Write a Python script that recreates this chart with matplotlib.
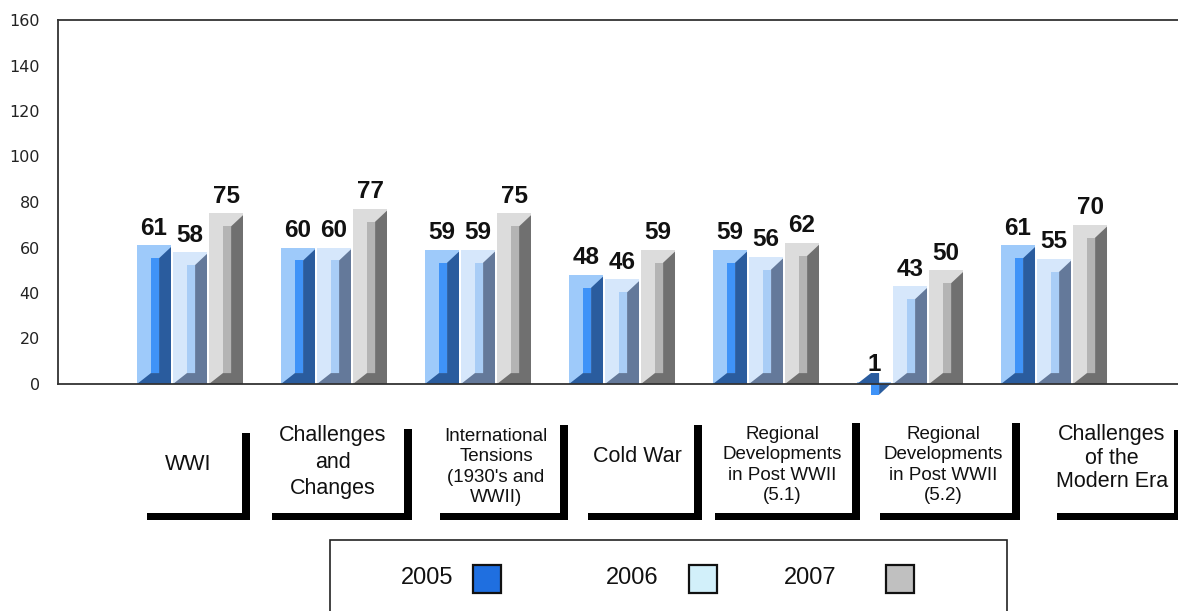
"""
Exam results by topic, 2005-2007, drawn as bevelled pseudo-3D bars.
"""

import matplotlib.pyplot as plt
from matplotlib.patches import Polygon, Rectangle

# Data.
categories = [
    "WWI",
    "Challenges\nand\nChanges",
    "International\nTensions\n(1930's and\nWWII)",
    "Cold War",
    "Regional\nDevelopments\nin Post WWII\n(5.1)",
    "Regional\nDevelopments\nin Post WWII\n(5.2)",
    "Challenges\nof the\nModern Era",
]
years = ["2005", "2006", "2007"]
scores_2005 = [61, 60, 59, 48, 59, 1, 61]
scores_2006 = [58, 60, 59, 46, 56, 43, 55]
scores_2007 = [75, 77, 75, 59, 62, 50, 70]
y_ticks = [0, 20, 40, 60, 80, 100, 120, 140, 160]

# Shading for each series: front face, inner strip, dark bevel.
SHADES = [
    ("#9ecafa", "#3f93f8", "#2a5c9e"),
    ("#d6e7fb", "#a9cdf6", "#64799a"),
    ("#dcdcdc", "#b4b4b4", "#707070"),
]
LEGEND_COLORS = ["#1f6fe0", "#d2f0fa", "#c0c0c0"]

W, H = 1178, 611
FONT = "Liberation Sans"


def fx(x):
    return x / W


def fy(y):
    return 1 - y / H


def draw_bar(ax, x0, w, h, shades):
    light, mid, dark = shades
    d_top, d_bot, t = 5.7, 4.8, 0.8
    ax.add_patch(Rectangle((x0, 0), w, h, facecolor=light, edgecolor="none",
                           clip_on=False))
    ax.add_patch(Rectangle((x0 + 0.41 * w, d_bot), 0.24 * w, h - d_top - d_bot,
                           facecolor=mid, edgecolor="none", clip_on=False))
    ax.add_patch(Polygon(
        [(x0, 0), (x0 + w, 0), (x0 + w, h - t), (x0 + 0.65 * w, h - d_top),
         (x0 + 0.65 * w, d_bot), (x0 + 0.41 * w, d_bot)],
        closed=True, facecolor=dark, edgecolor="none", clip_on=False))


def main():
    fig = plt.figure(figsize=(W / 100, H / 100), dpi=100)
    ax = fig.add_axes([fx(58), fy(384), 1 - fx(58), fy(20) - fy(384)])

    series = [scores_2005, scores_2006, scores_2007]
    bar_w, step = 0.236, 0.25
    for s, values in enumerate(series):
        for i, v in enumerate(values):
            x0 = i + (s - 1) * step - bar_w / 2
            draw_bar(ax, x0, bar_w, v, SHADES[s])
            ax.text(x0 + bar_w / 2, v + 2.4, str(v), ha="center", va="bottom",
                    fontsize=17.5, fontweight="bold", family=FONT,
                    color="#111111")

    ax.set_xlim(-0.9167, 6.861)
    ax.set_ylim(0, 160)
    ax.set_xticks([])
    ax.set_yticks(y_ticks)
    ax.tick_params(axis="y", length=0, pad=13, labelsize=11.5,
                   labelcolor="#222222")
    for name in ("left", "top", "bottom"):
        ax.spines[name].set_color("#333333")
        ax.spines[name].set_linewidth(1.3)
    ax.spines["right"].set_visible(False)

    # Category label boxes with thick L-shaped borders (pixel layout):
    # left, right, top of the border, text centre x/y, line spacing.
    boxes = [
        (147, 250, 433, 188, 465, 1.2),
        (272, 412, 429, 333, 462, 1.32),
        (440, 568, 425, 496, 467, 1.27),
        (588, 702, 425, 637, 457, 1.2),
        (715, 860, 423, 782, 465, 1.27),
        (880, 1020, 423, 943, 465, 1.27),
        (1057, 1182, 430, 1112, 458, 1.15),
    ]
    for label, (left, right, top, tx, ty, ls) in zip(categories, boxes):
        fig.add_artist(Rectangle((fx(left), fy(520)), fx(right - left), 7 / H,
                                 transform=fig.transFigure, facecolor="black",
                                 edgecolor="none"))
        fig.add_artist(Rectangle((fx(right - 8), fy(520)), fx(8), (520 - top) / H,
                                 transform=fig.transFigure, facecolor="black",
                                 edgecolor="none"))
        size = 13.5 if label.count("\n") == 3 else 15.5
        fig.text(fx(tx), fy(ty), label, ha="center", va="center", fontsize=size,
                 family=FONT, linespacing=ls, color="#111111")

    # Legend box.
    fig.add_artist(Rectangle((fx(330), fy(616)), fx(677), 76 / H,
                             transform=fig.transFigure, facecolor="white",
                             edgecolor="#222222", linewidth=1.2))
    legend_items = [(401, 473), (606, 689), (784, 886)]
    for year, color, (tx, sx) in zip(years, LEGEND_COLORS, legend_items):
        fig.text(fx(tx), fy(578), year, ha="left", va="center", fontsize=17,
                 family=FONT, color="#111111")
        fig.add_artist(Rectangle((fx(sx), fy(593)), fx(28), 28 / H,
                                 transform=fig.transFigure, facecolor=color,
                                 edgecolor="#111111", linewidth=1.6))

    fig.savefig("out.png", dpi=100)
    plt.close(fig)


if __name__ == "__main__":
    main()
